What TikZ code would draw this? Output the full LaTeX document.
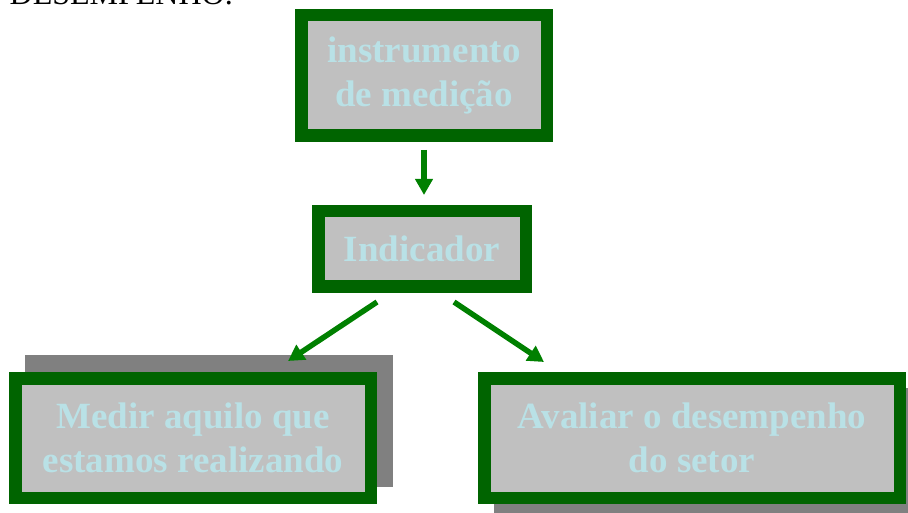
\documentclass[tikz,border=0pt]{standalone}
\usepackage{fontspec}
\setmainfont{Liberation Serif}
\usetikzlibrary{arrows.meta, backgrounds}
\definecolor{boxgreen}{RGB}{0,100,0}
\definecolor{arrgreen}{RGB}{0,128,0}
\definecolor{boxgray}{RGB}{192,192,192}
\definecolor{txtblue}{RGB}{185,225,230}
\definecolor{shadowgray}{RGB}{128,128,128}

\begin{document}
\begin{tikzpicture}[x=1pt, y=-1pt,
    caixa/.style={draw=boxgreen, line width=12.5pt, fill=boxgray, text=txtblue, align=center,
        font=\fontsize{37}{44}\selectfont\bfseries, inner sep=0pt},
    seta/.style={draw=arrgreen, line width=5.5pt, -{Triangle[width=17pt,length=16pt]}},
    sombra/.style={fill=shadowgray}]
    \useasboundingbox (0,0) rectangle (908,513);
    \clip (0,0) rectangle (908,513);

    % titulo cortado no topo
    \node[anchor=base east, inner sep=0pt, font=\fontsize{32}{38}\selectfont] (titulo) at (233,5) {DE DESEMPENHO.};

    \node[caixa, minimum width=245.5pt, minimum height=120.5pt] (instr) at (424,75.5) {instrumento\\de medição};
    \node[caixa, minimum width=207.5pt, minimum height=75.5pt] (ind) at (422,249) {Indicador};
    \node[caixa, minimum width=355.5pt, minimum height=119.5pt] (medir) at (193,438) {Medir aquilo que\\estamos realizando};
    \node[caixa, minimum width=415.5pt, minimum height=119.5pt] (aval) at (692,438) {Avaliar o desempenho\\do setor};

    \begin{scope}[on background layer]
        \fill[sombra] ([shift={(16pt,17pt)}]medir.south west) rectangle ([shift={(16pt,17pt)}]medir.north east);
        \fill[sombra] ([shift={(16pt,-16pt)}]aval.south west) rectangle ([shift={(16pt,-16pt)}]aval.north east);
    \end{scope}

    \draw[seta] ([yshift=-8pt]instr.south) -- ([yshift=10pt]instr.south |- ind.north);
    \draw[seta] ([shift={(-45pt,-9pt)}]ind.south) -- ([shift={(95pt,11pt)}]medir.north);
    \draw[seta] ([shift={(32pt,-9pt)}]ind.south) -- ([shift={(-148pt,10pt)}]aval.north);
\end{tikzpicture}
\end{document}
